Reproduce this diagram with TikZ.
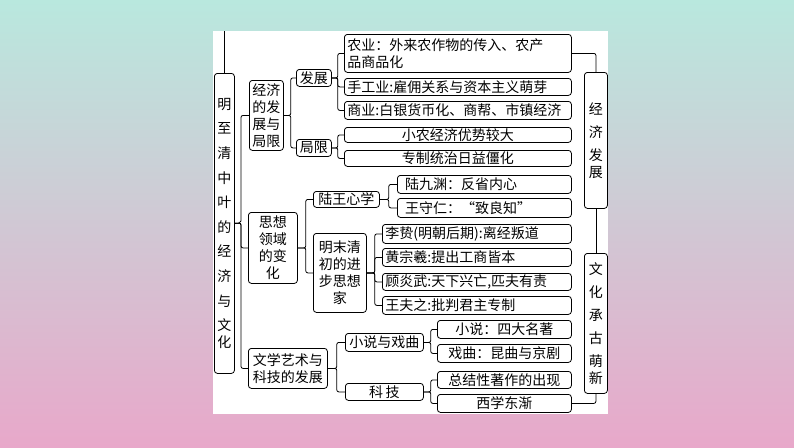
\documentclass[tikz,border=0pt]{standalone}
\usepackage{fontspec}
\setmainfont{Noto Sans CJK SC}
\begin{document}
\begin{tikzpicture}[x=1pt,y=-1pt,
  box/.style={draw=black,line width=0.8pt,rounded corners=3pt,inner sep=0pt,font=\fontsize{14}{17}\selectfont,anchor=north west},
  ln/.style={draw=black,line width=0.8pt,rounded corners=2pt}]
\useasboundingbox (0,0) rectangle (794,447);
\shade[top color={rgb,255:red,185;green,232;blue,222},bottom color={rgb,255:red,232;green,168;blue,202}] (0,0) rectangle (794,447);
\fill[white] (213,31) rectangle (608,414);
\newcommand{\bx}[7][center]{\node[box,align=#1,minimum width={(#4-#2)*1pt},minimum height={(#5-#3)*1pt},text width={(#4-#2-6)*1pt}] (#6) at (#2,#3) {#7};}
\bx{214}{73}{234}{373}{main}{\fontsize{14}{24.6}\selectfont 明\\至\\清\\中\\叶\\的\\经\\济\\与\\文\\化}
\bx{249}{80}{283}{150}{jj}{经济\\的发\\展与\\局限}
\bx{248}{212}{297}{283}{sx}{思想\\领域\\的变\\化}
\bx{248}{348}{327}{388}{wx}{\fontsize{14}{16}\selectfont 文学艺术与\\科技的发展}
\bx{296}{69}{331}{86}{fz}{发展}
\bx{296}{139}{331}{156}{jx}{局限}
\bx{313}{191}{379}{207}{lw}{陆王心学}
\bx{313}{233}{366}{312}{mm}{明末清\\初的进\\步思想\\家}
\bx{345}{333}{423}{351}{xs}{小说与戏曲}
\bx{345}{383}{423}{400}{kj}{科\,技}
\bx[left]{344}{34}{571}{72}{ny}{\fontsize{14}{18}\selectfont 农业：外来农作物的传入、农产\\品商品化}
\bx[left]{344}{78}{571}{95}{sg}{手工业:雇佣关系与资本主义萌芽}
\bx[left]{344}{101}{571}{119}{sy}{商业:白银货币化、商帮、市镇经济}
\bx{344}{127}{571}{142}{xn}{小农经济优势较大}
\bx{344}{150}{571}{166}{zz}{专制统治日益僵化}
\bx[left]{397}{175}{571}{193}{ljy}{\ 陆九渊：反省内心}
\bx[left]{397}{198}{571}{217}{wsr}{\ 王守仁：“致良知”}
\bx[left]{382}{224}{571}{243}{lz}{李贽(明朝后期):离经叛道}
\bx[left]{382}{248}{571}{266}{hzx}{黄宗羲:提出工商皆本}
\bx[left]{382}{273}{571}{290}{gyw}{顾炎武:天下兴亡,匹夫有责}
\bx[left]{382}{296}{571}{314}{wfz}{王夫之:批判君主专制}
\bx{437}{320}{571}{338}{xsh}{小说：四大名著}
\bx{437}{344}{571}{362}{xq}{戏曲：昆曲与京剧}
\bx{437}{371}{571}{388}{zj}{总结性著作的出现}
\bx{437}{394}{571}{412}{xx}{西学东渐}
\bx{584}{72}{607}{208}{jjfz}{\fontsize{14}{23}\selectfont 经\\济\\发\\展}
\bx{584}{253}{607}{393}{wh}{\fontsize{14}{23}\selectfont 文\\化\\承\\古\\萌\\新}
% connectors
\coordinate (top) at (224,31);
\draw[ln] (main.north -| top) -- (top);
\foreach \c in {jj,sx,wx} \draw[ln] (main.east) -- (241,223) |- (\c.west);
\foreach \c in {fz,jx} \draw[ln] (jj.east) -- ++(7,0) |- (\c.west);
\foreach \c in {ny,sg,sy} \draw[ln] (fz.east) -- ++(6,0) |- (\c.west);
\foreach \c in {xn,zz} \draw[ln] (jx.east) -- ++(6,0) |- (\c.west);
\foreach \c in {lw,mm} \draw[ln] (sx.east) -- ++(8,0) |- (\c.west);
\foreach \c in {ljy,wsr} \draw[ln] (lw.east) -- ++(9,0) |- (\c.west);
\foreach \c in {lz,hzx,gyw,wfz} \draw[ln] (mm.east) -- ++(8,0) |- (\c.west);
\foreach \c in {xs,kj} \draw[ln] (wx.east) -- ++(9,0) |- (\c.west);
\foreach \c in {xsh,xq} \draw[ln] (xs.east) -- ++(7,0) |- (\c.west);
\foreach \c in {zj,xx} \draw[ln] (kj.east) -- ++(7,0) |- (\c.west);
\draw[ln] (ny.east) -| (jjfz.north);
\draw[ln] (jjfz.south) -- (wh.north);
\draw[ln] (xx.east) -| (wh.south);
\end{tikzpicture}
\end{document}
